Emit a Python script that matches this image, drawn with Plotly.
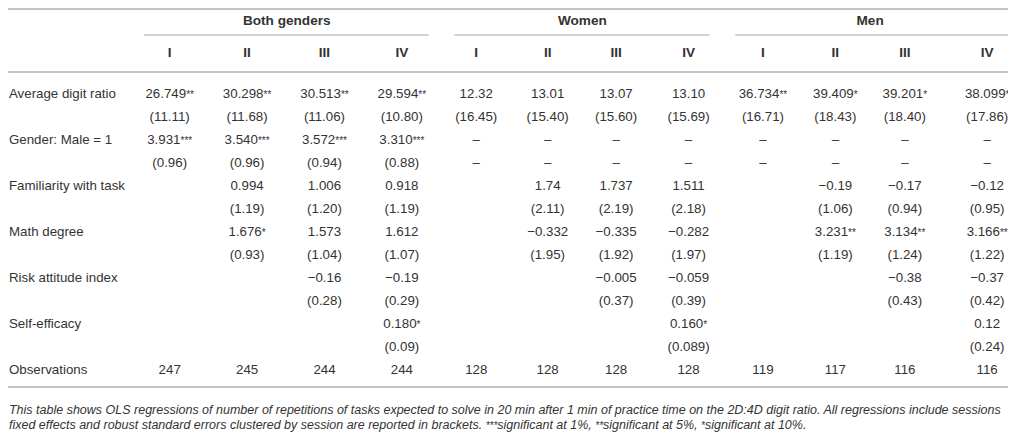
"""
Regression table: digit ratio and expected task repetitions, drawn with Plotly.
"""

import plotly.graph_objects as go

FONT = "Liberation Sans, Arial, Helvetica, sans-serif"
TEXT_COLOR = "#333333"
RULE_COLOR = "#c4c4c4"

groups = ["Both genders", "Women", "Men"]
models = ["I", "II", "III", "IV"]

row_labels = [
    "Average digit ratio", "",
    "Gender: Male = 1", "",
    "Familiarity with task", "",
    "Math degree", "",
    "Risk attitude index", "",
    "Self-efficacy", "",
    "Observations",
]

# 12 columns: Both genders I-IV, Women I-IV, Men I-IV
avg_digit_ratio = ["26.749**", "30.298**", "30.513**", "29.594**",
                   "12.32", "13.01", "13.07", "13.10",
                   "36.734**", "39.409*", "39.201*", "38.099*"]
avg_digit_ratio_se = ["(11.11)", "(11.68)", "(11.06)", "(10.80)",
                      "(16.45)", "(15.40)", "(15.60)", "(15.69)",
                      "(16.71)", "(18.43)", "(18.40)", "(17.86)"]
gender_male = ["3.931***", "3.540***", "3.572***", "3.310***",
               "–", "–", "–", "–", "–", "–", "–", "–"]
gender_male_se = ["(0.96)", "(0.96)", "(0.94)", "(0.88)",
                  "–", "–", "–", "–", "–", "–", "–", "–"]
familiarity = ["", "0.994", "1.006", "0.918",
               "", "1.74", "1.737", "1.511",
               "", "−0.19", "−0.17", "−0.12"]
familiarity_se = ["", "(1.19)", "(1.20)", "(1.19)",
                  "", "(2.11)", "(2.19)", "(2.18)",
                  "", "(1.06)", "(0.94)", "(0.95)"]
math_degree = ["", "1.676*", "1.573", "1.612",
               "", "−0.332", "−0.335", "−0.282",
               "", "3.231**", "3.134**", "3.166**"]
math_degree_se = ["", "(0.93)", "(1.04)", "(1.07)",
                  "", "(1.95)", "(1.92)", "(1.97)",
                  "", "(1.19)", "(1.24)", "(1.22)"]
risk_attitude = ["", "", "−0.16", "−0.19",
                 "", "", "−0.005", "−0.059",
                 "", "", "−0.38", "−0.37"]
risk_attitude_se = ["", "", "(0.28)", "(0.29)",
                    "", "", "(0.37)", "(0.39)",
                    "", "", "(0.43)", "(0.42)"]
self_efficacy = ["", "", "", "0.180*",
                 "", "", "", "0.160*",
                 "", "", "", "0.12"]
self_efficacy_se = ["", "", "", "(0.09)",
                    "", "", "", "(0.089)",
                    "", "", "", "(0.24)"]
observations = ["247", "245", "244", "244",
                "128", "128", "128", "128",
                "119", "117", "116", "116"]

table_rows = [
    avg_digit_ratio, avg_digit_ratio_se,
    gender_male, gender_male_se,
    familiarity, familiarity_se,
    math_degree, math_degree_se,
    risk_attitude, risk_attitude_se,
    self_efficacy, self_efficacy_se,
    observations,
]

footnote = [
    "This table shows OLS regressions of number of repetitions of tasks expected to solve in 20 min "
    "after 1 min of practice time on the 2D:4D digit ratio. All regressions include sessions",
    "fixed effects and robust standard errors clustered by session are reported in brackets. "
    "***significant at 1%, **significant at 5%, *significant at 10%.",
]

# layout geometry in page pixels; the page body adds an 8px margin on
# each side, so the axes span 8..1016 squeezed into a 1000px wide figure
W, H, PAD = 1016, 434, 8
LEFT = 9  # row labels / footnote start (first visible pixels)
col_x = [171, 249, 327, 405, 480, 552, 621, 694, 769, 842, 912, 995]
group_x = [289, 587, 877]
group_span = [(145, 432), (458, 715), (741, 1016)]
row_y0, row_step = 95, 23


def small_stars(value, size=10):
    """Render significance stars small, as in the printed table."""
    out, run = "", ""
    for ch in value + "\0":
        if ch == "*":
            run += ch
            continue
        if run:
            out += f'<span style="font-size:{size}px">{run}</span>'
            run = ""
        if ch != "\0":
            out += ch
    return out


fig = go.Figure()
text_kw = dict(mode="text", hoverinfo="skip", cliponaxis=False)

# group headers
fig.add_trace(go.Scatter(
    x=group_x, y=[22] * len(group_x), text=[f"<b>{g}</b>" for g in groups],
    textposition="middle center",
    textfont=dict(family=FONT, size=13.6, color=TEXT_COLOR), **text_kw,
))

# model headers
fig.add_trace(go.Scatter(
    x=col_x, y=[54] * len(col_x), text=[f"<b>{m}</b>" for m in models * 3],
    textposition="middle center",
    textfont=dict(family=FONT, size=13.6, color=TEXT_COLOR), **text_kw,
))

# row labels
row_y = [row_y0 + i * row_step for i in range(len(row_labels))]
fig.add_trace(go.Scatter(
    x=[LEFT] * len(row_labels), y=row_y, text=row_labels,
    textposition="middle right",
    textfont=dict(family=FONT, size=13.3, color=TEXT_COLOR), **text_kw,
))

# table body
for y, values in zip(row_y, table_rows):
    fig.add_trace(go.Scatter(
        x=col_x, y=[y] * len(col_x), text=[small_stars(v) for v in values],
        textposition="middle center",
        textfont=dict(family=FONT, size=13.3, color=TEXT_COLOR), **text_kw,
    ))

# footnote
fig.add_trace(go.Scatter(
    x=[LEFT, LEFT], y=[411, 426], text=[f"<i>{small_stars(t, 10)}</i>" for t in footnote],
    textposition="middle right",
    textfont=dict(family=FONT, size=12.5, color=TEXT_COLOR), **text_kw,
))

rules = [dict(x0=0, x1=W, y=9, w=2), dict(x0=0, x1=W, y=72, w=2),
         dict(x0=0, x1=W, y=387, w=2)]
rules += [dict(x0=a, x1=b, y=35, w=1.5) for a, b in group_span]
fig.update_layout(
    shapes=[dict(type="line", xref="x", yref="y", x0=r["x0"], x1=r["x1"],
                 y0=r["y"], y1=r["y"], line=dict(color=RULE_COLOR, width=r["w"]))
            for r in rules],
    width=W - 2 * PAD, height=H - PAD, margin=dict(l=0, r=0, t=0, b=0),
    paper_bgcolor="white", plot_bgcolor="white", showlegend=False,
    xaxis=dict(range=[PAD, W], visible=False, fixedrange=True),
    yaxis=dict(range=[H, PAD], visible=False, fixedrange=True),
)

fig.write_html("out.html")
